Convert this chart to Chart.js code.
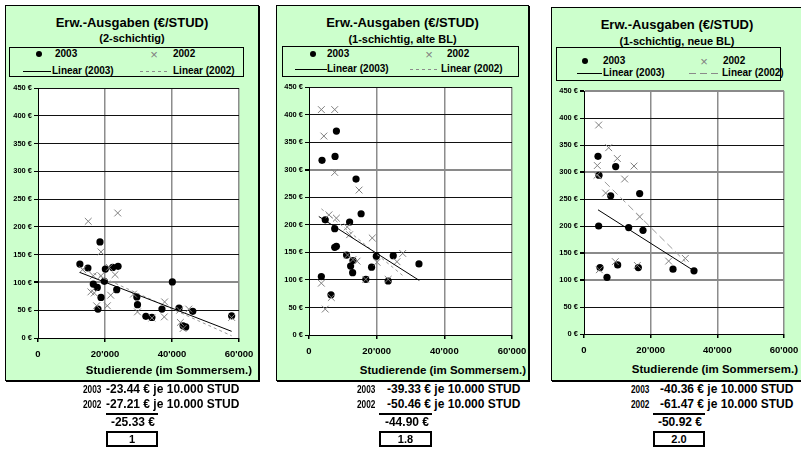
<!DOCTYPE html>
<html>
<head>
<meta charset="utf-8">
<script src="https://cdn.jsdelivr.net/npm/chart.js@4/dist/chart.umd.min.js"></script>
<style>
body { margin: 0; background: #fff; width: 801px; height: 460px; overflow: hidden; position: relative;
       font-family: "Liberation Sans", Arial, sans-serif; font-weight: bold; color: #000; }
.abs { position: absolute; white-space: nowrap; }
.panel { position: absolute; background: #ccffcc; border: 1px solid #000; box-shadow: 1px 1px 0 #000; box-sizing: border-box; }
.legbox { position: absolute; border: 1px solid #000; box-sizing: border-box; }
</style>
</head>
<body>
<script>
const FONT = "'Liberation Sans', Arial, sans-serif";

// axis ticks
const xTickValues = [0, 20000, 40000, 60000];
const yTickValues = [0, 50, 100, 150, 200, 250, 300, 350, 400, 450];

// texts
const mainTitle = 'Erw.-Ausgaben (€/STUD)';
const subTitles = ['(2-schichtig)', '(1-schichtig, alte BL)', '(1-schichtig, neue BL)'];
const seriesNames = ['2003', '2002'];
const trendNames = ['Linear (2003)', 'Linear (2002)'];
const xAxisTitle = 'Studierende (im Sommersem.)';
const slopes2003 = ['-23.44', '-39.33', '-40.36'];
const slopes2002 = ['-27.21', '-50.46', '-61.47'];
const slopesAvg = ['-25.33', '-44.90', '-50.92'];
const ratios = ['1', '1.8', '2.0'];

// 2-schichtig  [Studierende, €/STUD]
const zwei2003 = [[12500,133],[14900,126],[18500,173],[16500,97],[17700,91],[17900,52],[18800,73],[19800,102],
  [20100,124],[22300,127],[23900,129],[23500,87],[29500,74],[29700,60],[32200,39],[34000,37],[37000,52],
  [40100,101],[42100,54],[46200,48],[43300,22],[44100,20],[57800,40]];
const zwei2002 = [[15000,210],[23800,225],[18800,155],[13300,123],[16500,112],[18800,112],[21300,127],[23000,114],
  [15800,83],[16800,81],[17500,58],[20700,58],[21700,77],[28500,79],[29700,47],[34000,36],[37800,65],
  [37700,38],[42300,50],[42500,28],[43300,17],[45000,52],[57800,37]];
const zweiTrend2003 = [[12500,118],[57800,12]];
const zweiTrend2002 = [[13300,125],[57800,4]];

// 1-schichtig, alte BL
const alt2003 = [[8100,370],[3850,317],[7700,324],[13900,283],[15400,220],[12000,205],[4800,209],[7600,193],
  [7600,159],[8100,161],[11100,145],[13000,135],[12300,125],[12900,113],[16800,101],[18500,123],[19900,143],
  [24900,144],[23400,98],[32500,129],[3650,106],[6500,73]];
const alt2002 = [[3650,409],[7600,409],[4400,361],[7600,295],[14800,263],[5900,218],[8100,212],[11300,196],
  [12000,182],[18700,176],[13000,137],[14200,134],[11400,145],[16800,101],[20100,132],[23400,101],
  [26000,133],[27700,148],[3650,94],[6600,68],[4800,47]];
const altTrend2003 = [[2900,215],[32600,99]];
const altTrend2002 = [[3650,229],[27700,108]];

// 1-schichtig, neue BL
const neu2003 = [[4200,329],[4500,294],[9500,310],[8000,256],[16700,260],[4400,200],[13400,197],[17700,192],
  [4800,123],[6900,105],[10100,128],[16300,123],[26700,120],[33000,117]];
const neu2002 = [[4400,387],[7400,345],[10000,325],[4000,312],[15000,311],[3900,294],[12200,287],[6500,261],
  [16700,217],[9400,134],[4600,119],[16000,127],[25400,135],[30400,140]];
const neuTrend2003 = [[4200,230],[33000,117]];
const neuTrend2002 = [[3900,296],[30400,134]];

const panelData = [
  [zwei2003, zwei2002, zweiTrend2003, zweiTrend2002],
  [alt2003, alt2002, altTrend2003, altTrend2002],
  [neu2003, neu2002, neuTrend2003, neuTrend2002],
];

// page layout (pixels)
const layouts = [
  { box: [5, 5, 259, 381], plot: [38, 88, 239, 338], titleY: 22, subY: 38, leg: [9, 47, 244, 77], r1: 54, r2: 71,
    dot: 39, t03: 55, l03: 52, cross: 154, t02: 173, l02: 173, solid: [23, 51], dash: [140, 170], dashPat: [3, 3],
    axisR: 252, axisY: 371, yearX: 83, textX: 106, rule: [106, 158], avgR: 155, greyY: [100] },
  { box: [276, 5, 529, 381], plot: [309, 87, 512, 335], titleY: 22, subY: 39, leg: [282, 46, 519, 77], r1: 54, r2: 69,
    dot: 313, t03: 327, l03: 327, cross: 429, t02: 447, l02: 441, solid: [295, 327], dash: [410, 438], dashPat: [3, 3],
    axisR: 526, axisY: 371, yearX: 357, textX: 387, rule: [379, 432], avgR: 429, greyY: [300] },
  { box: [551, 7, 803, 381], plot: [584, 91, 784, 334], titleY: 24, subY: 41, leg: [556, 47, 781, 81], r1: 61, r2: 73,
    dot: 585, t03: 603, l03: 603, cross: 704, t02: 723, l02: 722, solid: [577, 602], dash: [689, 722], dashPat: [7, 4],
    axisR: 798, axisY: 370, yearX: 631, textX: 660, rule: [653, 705], avgR: 702, greyY: [450, 300, 150, 100] },
];

function txt(s, x, y, size, align) {
  const d = document.createElement('div');
  d.className = 'abs';
  d.textContent = s;
  d.style.fontSize = size + 'px';
  d.style.lineHeight = size + 'px';
  d.style.top = (y - size / 2) + 'px';
  if (align === 'right') d.style.right = (801 - x) + 'px';
  else d.style.left = x + 'px';
  if (align === 'center') d.style.transform = 'translateX(-50%)';
  document.body.appendChild(d);
  return d;
}

function rect(l, t, w, h, css) {
  const d = document.createElement('div');
  d.className = 'abs';
  d.style.cssText += `left:${l}px;top:${t}px;width:${w}px;height:${h}px;` + (css || '');
  document.body.appendChild(d);
  return d;
}

const whiteArea = {
  id: 'whiteArea',
  beforeDraw(chart) {
    const { ctx, chartArea: a } = chart;
    ctx.save();
    ctx.fillStyle = '#fff';
    ctx.fillRect(a.left, a.top, a.right - a.left, a.bottom - a.top);
    ctx.restore();
  }
};

const fmtX = v => v === 0 ? '0' : (v / 1000) + "'000";
const pts = a => a.map(([x, y]) => ({ x, y }));

function makeChart(L, dots, crosses, trend03, trend02) {
  const [pl, pt, pr, pb] = L.plot;
  const mL = 40, mR = 24, mT = 8, mB = 28;
  const w = pr - pl + mL + mR, h = pb - pt + mT + mB;
  const c = document.createElement('canvas');
  c.width = w; c.height = h;
  c.style.cssText = `position:absolute;left:${pl - mL}px;top:${pt - mT}px;width:${w}px;height:${h}px`;
  document.body.appendChild(c);

  new Chart(c, {
    type: 'scatter',
    data: {
      datasets: [
        { data: pts(trend03), showLine: true, borderColor: '#000', borderWidth: 1, pointRadius: 0, order: 0 },
        { data: pts(trend02), showLine: true, borderColor: '#9a9a9a', borderWidth: 1, borderDash: L.dashPat, pointRadius: 0, order: 1 },
        { data: pts(crosses), pointStyle: 'crossRot', pointRadius: 4.8, borderColor: '#808080', borderWidth: 1, order: 2 },
        { data: pts(dots), pointStyle: 'circle', pointRadius: 3.6, backgroundColor: '#000', borderColor: '#000', borderWidth: 0, order: 3 },
      ]
    },
    options: {
      responsive: false,
      animation: false,
      events: [],
      layout: { autoPadding: false, padding: { left: 0, top: mT, right: mR, bottom: 0 } },
      plugins: { legend: { display: false }, tooltip: { enabled: false } },
      scales: {
        x: {
          type: 'linear', min: 0, max: 60000,
          afterBuildTicks: s => { s.ticks = xTickValues.map(v => ({ value: v })); },
          afterFit: s => { s.height = mB; },
          grid: {
            color: ctx => (ctx.tick && ctx.tick.value === 0) ? 'rgba(0,0,0,0)' : '#8c8c8c',
            lineWidth: 1.5, tickLength: 4, tickColor: '#000'
          },
          border: { color: '#000', width: 1 },
          ticks: { font: { family: FONT, size: 9.5, weight: 'bold' }, color: '#000', padding: 7, maxRotation: 0,
                   callback: v => fmtX(v) }
        },
        y: {
          type: 'linear', min: 0, max: 450,
          afterBuildTicks: s => { s.ticks = yTickValues.map(v => ({ value: v })); },
          afterFit: s => { s.width = mL; },
          grid: {
            color: ctx => (ctx.tick && L.greyY.includes(ctx.tick.value)) ? '#8a8a8a' : '#111',
            lineWidth: ctx => (ctx.tick && L.greyY.includes(ctx.tick.value)) ? 2 : 1,
            tickLength: 4, tickColor: '#000'
          },
          border: { color: '#000', width: 1 },
          ticks: { font: { family: FONT, size: 7.5, weight: 'bold' }, color: '#000', padding: 2,
                   callback: v => v + ' €' }
        }
      }
    },
    plugins: [whiteArea]
  });
}

layouts.forEach((L, i) => {
  const [bl, bt, br, bb] = L.box;
  const p = document.createElement('div');
  p.className = 'panel';
  p.style.cssText = `left:${bl}px;top:${bt}px;width:${br - bl}px;height:${bb - bt}px`;
  document.body.appendChild(p);

  const cx = (bl + br) / 2;
  txt(mainTitle, cx, L.titleY, 13, 'center');
  txt(subTitles[i], cx, L.subY, 11, 'center');

  // legend
  const [ll, lt, lr, lb] = L.leg;
  const lg = document.createElement('div');
  lg.className = 'legbox';
  lg.style.cssText = `left:${ll}px;top:${lt}px;width:${lr - ll}px;height:${lb - lt}px`;
  document.body.appendChild(lg);
  rect(L.dot - 3, L.r1 - 3, 6, 6, 'background:#000;border-radius:50%;');
  const cr = txt('×', L.cross, L.r1, 13, 'center');
  cr.style.color = '#808080'; cr.style.fontWeight = 'normal';
  txt(seriesNames[0], L.t03, L.r1, 10);
  txt(seriesNames[1], L.t02, L.r1, 10);
  rect(L.solid[0], L.r2, L.solid[1] - L.solid[0], 1, 'background:#000;');
  rect(L.dash[0], L.r2, L.dash[1] - L.dash[0], 1,
    `background:repeating-linear-gradient(90deg,#8a8a8a 0 ${L.dashPat[0]}px,transparent ${L.dashPat[0]}px ${L.dashPat[0] + L.dashPat[1]}px);`);
  txt(trendNames[0], L.l03, L.r2, 10);
  txt(trendNames[1], L.l02, L.r2, 10);

  const [dots, crosses, t03, t02] = panelData[i];
  makeChart(L, dots, crosses, t03, t02);

  txt(xAxisTitle, L.axisR, L.axisY, 11.5, 'right');

  // summary below the panel
  const y1 = txt(seriesNames[0], L.yearX, 389, 11);
  y1.style.transformOrigin = 'left center'; y1.style.transform = 'scaleX(0.75)';
  txt(slopes2003[i] + ' € je 10.000 STUD', L.textX, 389, 12);
  const y2 = txt(seriesNames[1], L.yearX, 404, 11);
  y2.style.transformOrigin = 'left center'; y2.style.transform = 'scaleX(0.75)';
  txt(slopes2002[i] + ' € je 10.000 STUD', L.textX, 404, 12);
  rect(L.rule[0], 413, L.rule[1] - L.rule[0], 2, 'background:#000;');
  txt(slopesAvg[i] + ' €', L.avgR, 422, 12, 'right');
  rect(L.rule[0], 431, L.rule[1] - L.rule[0], 16, 'border:2.5px solid #000;box-sizing:border-box;');
  txt(ratios[i], (L.rule[0] + L.rule[1]) / 2, 439, 11, 'center');
});
</script>
</body>
</html>
